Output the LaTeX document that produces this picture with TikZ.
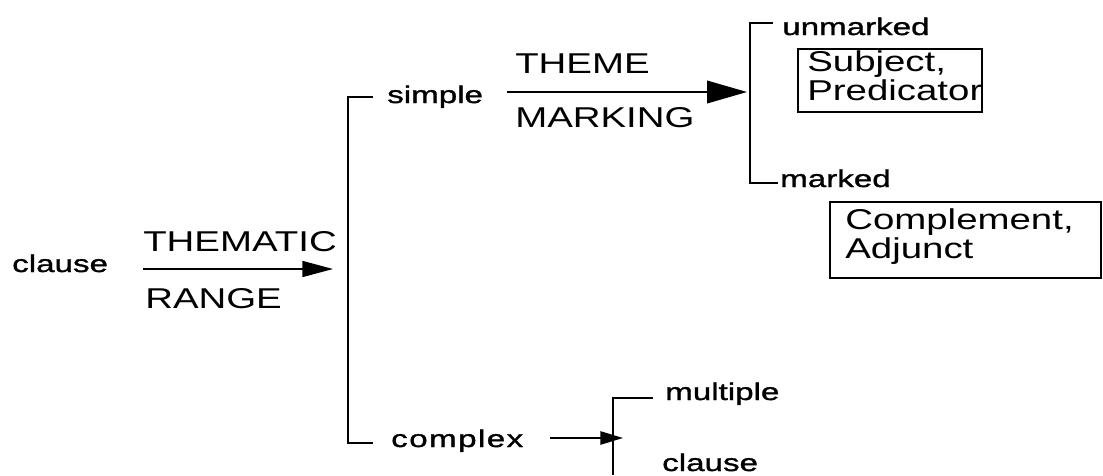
\documentclass[tikz,border=0pt]{standalone}
\usepackage{fontspec}
\setmainfont{Liberation Sans}[FakeStretch=1.34]
\newfontfamily\featfont{Liberation Sans}[FakeStretch=1.38, FakeBold=1.3]
\usetikzlibrary{arrows.meta}

\tikzset{
  feature/.style={anchor=base west, inner sep=0pt, font=\featfont\fontsize{18}{18}\selectfont},
  system/.style={anchor=base west, inner sep=0pt, align=left, font=\fontsize{21.5}{20}\selectfont},
  bracket/.style={line width=1.2pt},
  realbox/.style={line width=1.2pt},
  bigtip/.style={line width=1.2pt, -{Triangle[length=30pt, width=17pt]}},
  midtip/.style={line width=1.2pt, -{Triangle[length=23pt, width=12pt]}},
  smalltip/.style={line width=1.2pt, -{Triangle[length=17pt, width=10pt]}},
}

\begin{document}
\begin{tikzpicture}[x=0.75pt, y=-0.75pt]
    \useasboundingbox (0,0) rectangle (1103,475);

    % Clause and thematic range
    \node[feature] (clause) at (12,272) {clause};
    \coordinate (thfrom) at (143,269);
    \coordinate (thto) at (333,269);
    \draw[midtip] (thfrom) -- (thto);
    \node[system] (thematic) at (143,251) {THEMATIC};
    \node[system] (range) at (145,308) {RANGE};

    % First bracket: simple / complex
    \draw[bracket] (373,97) -- (348,97) -- (348,443) -- (373,443);
    \node[feature] (simple) at (387,103) {simple};
    \node[feature, font=\featfont\fontsize{18}{18}\selectfont\addfontfeature{LetterSpace=6}] (complex) at (391,447) {complex};

    % Theme marking
    \coordinate (tmfrom) at (507,92);
    \coordinate (tmto) at (747,92);
    \draw[bigtip] (tmfrom) -- (tmto);
    \node[system] (theme) at (515,73) {THEME};
    \node[system] (marking) at (515,127) {MARKING};

    % Second bracket: unmarked / marked
    \draw[bracket] (773,23) -- (750,23) -- (750,183) -- (778,183);
    \node[feature] (unmarked) at (782,35) {unmarked};
    \node[feature] (marked) at (780,187) {marked};

    % Realisations (base anchor sits on the last line)
    \draw[realbox] (798,49) rectangle (982,112);
    \node[system] (subjpred) at (807,100) {Subject,\\Predicator};
    \draw[realbox] (830,202) rectangle (1101,278);
    \node[system] (compadj) at (845,258) {Complement,\\Adjunct};

    % Complex branch
    \coordinate (cxfrom) at (550,438);
    \coordinate (cxto) at (623,438);
    \draw[smalltip] (cxfrom) -- (cxto);
    \draw[bracket] (653,398) -- (613,398) -- (613,475);
    \node[feature] (multiple) at (665,400) {multiple};
    \node[feature] (clausetwo) at (662,471) {clause};

\end{tikzpicture}
\end{document}
